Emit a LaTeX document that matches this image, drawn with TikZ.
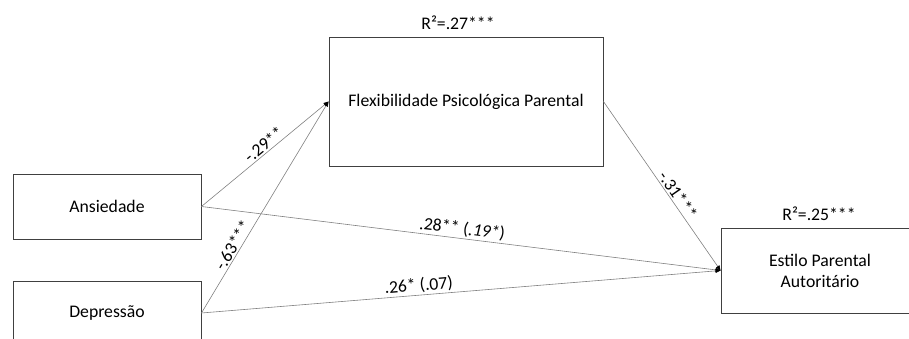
\documentclass[tikz,border=0pt]{standalone}
\usepackage{fontspec}
\setmainfont{Carlito}
\usetikzlibrary{arrows.meta,positioning}

\tikzset{
  caixa/.style={draw=black!75, line width=0.9pt, minimum width=188pt, minimum height=65pt, align=center, inner sep=0pt},
  seta/.style={draw=black!50, line width=0.6pt, -{Triangle[length=5pt,width=4pt,color=black]}},
  coef/.style={sloped, above, inner sep=1.5pt},
}

\begin{document}
\begin{tikzpicture}[x=1pt, y=1pt, font=\fontsize{17.7}{21}\selectfont]
    \useasboundingbox (0,0) rectangle (909,339);
    \clip (0,0) rectangle (909,339);
    %CAIXAS
    \node[caixa] (ans) at (107,132.5) {Ansiedade};
    \node[caixa, minimum height=64pt] (dep) at (107,26) {Depressão};
    \node[caixa, minimum width=274pt, minimum height=129pt] (flex) at (466,237.5) {Flexibilidade Psicológica Parental};
    \node[caixa, minimum width=198pt, minimum height=85pt] (est) at (820,68.5) {Estilo Parental\\Autoritário};
    %R2
    \node[above=3pt of flex.north, xshift=-8pt] (r2flex) {R²=.27***};
    \node[above=3pt of est.north, xshift=-1pt] (r2est) {R²=.25***};
    %SETAS
    \draw[seta] (ans.east) -- (flex.west) node[coef, pos=0.53] (c1) {-.29**};
    \draw[seta] (dep.east) -- (flex.west) node[coef, pos=0.3] (c2) {-.63***};
    \draw[seta] (flex.east) -- (est.west) node[coef, pos=0.58] (c3) {-.31***};
    \draw[seta] (ans.east) -- (est.west) node[coef, pos=0.5] (c4) {.28** (\textit{.19*})};
    \draw[seta] (dep.east) -- (est.west) node[coef, pos=0.42] (c5) {.26* (.07)};
\end{tikzpicture}
\end{document}
